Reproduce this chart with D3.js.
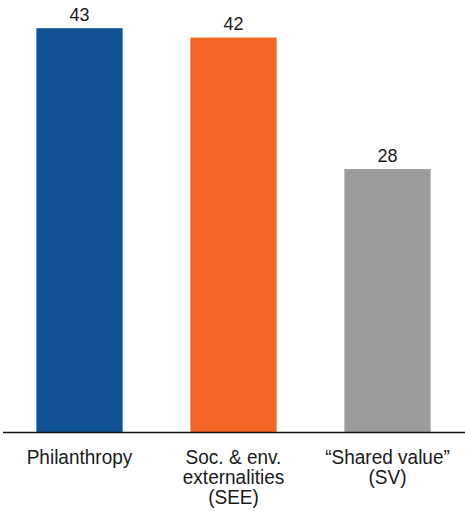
<!DOCTYPE html>
<html><head><meta charset="utf-8">
<script src="https://cdn.jsdelivr.net/npm/d3@7"></script>
<style>html,body{margin:0;padding:0;background:#fff;}</style>
</head><body><div id="chart"></div>
<script>
const categories = [["Philanthropy"], ["Soc. & env.", "externalities", "(SEE)"], ["\u201cShared value\u201d", "(SV)"]];
const values = [43, 42, 28];
const colors = ["#0F5296", "#F26524", "#9C9C9D"];

const W = 465, H = 511;
const svg = d3.select("#chart").append("svg").attr("width", W).attr("height", H);
const font = "'Liberation Sans', Arial, sans-serif";

const x = d3.scaleBand().domain(d3.range(values.length)).range([2.5, 464.5]).paddingInner(0.44).paddingOuter(0.22);
const y = d3.scaleLinear().domain([0, 46]).range([432, 0]);

svg.selectAll("rect.bar").data(values).join("rect")
  .attr("class", "bar")
  .attr("x", (d, i) => x(i)).attr("width", x.bandwidth())
  .attr("y", d => y(d)).attr("height", d => y(0) - y(d))
  .attr("fill", (d, i) => colors[i]);

svg.selectAll("text.val").data(values).join("text")
  .attr("class", "val")
  .attr("x", (d, i) => x(i) + x.bandwidth() / 2)
  .attr("y", d => y(d) - 7.5)
  .attr("text-anchor", "middle")
  .attr("font-family", font).attr("font-size", 18).attr("fill", "#1a1a1a")
  .text(d => d);

const axis = d3.axisBottom(x).tickSize(0).tickFormat("");
const g = svg.append("g").attr("transform", `translate(0,${y(0)})`).call(axis);
g.select(".domain").attr("d", `M3,0.5H465`).attr("stroke", "#111").attr("stroke-width", 1.6);

categories.forEach((lines, i) => {
  const cx = x(i) + x.bandwidth() / 2;
  const t = svg.append("text")
    .attr("transform", `translate(${cx},0) scale(0.975,1)`)
    .attr("text-anchor", "middle")
    .attr("font-family", font).attr("font-size", 19.5).attr("fill", "#1a1a1a");
  lines.forEach((l, j) => {
    t.append("tspan").attr("x", 0).attr("y", 464.5 + j * 20).text(l);
  });
});
</script></body></html>
